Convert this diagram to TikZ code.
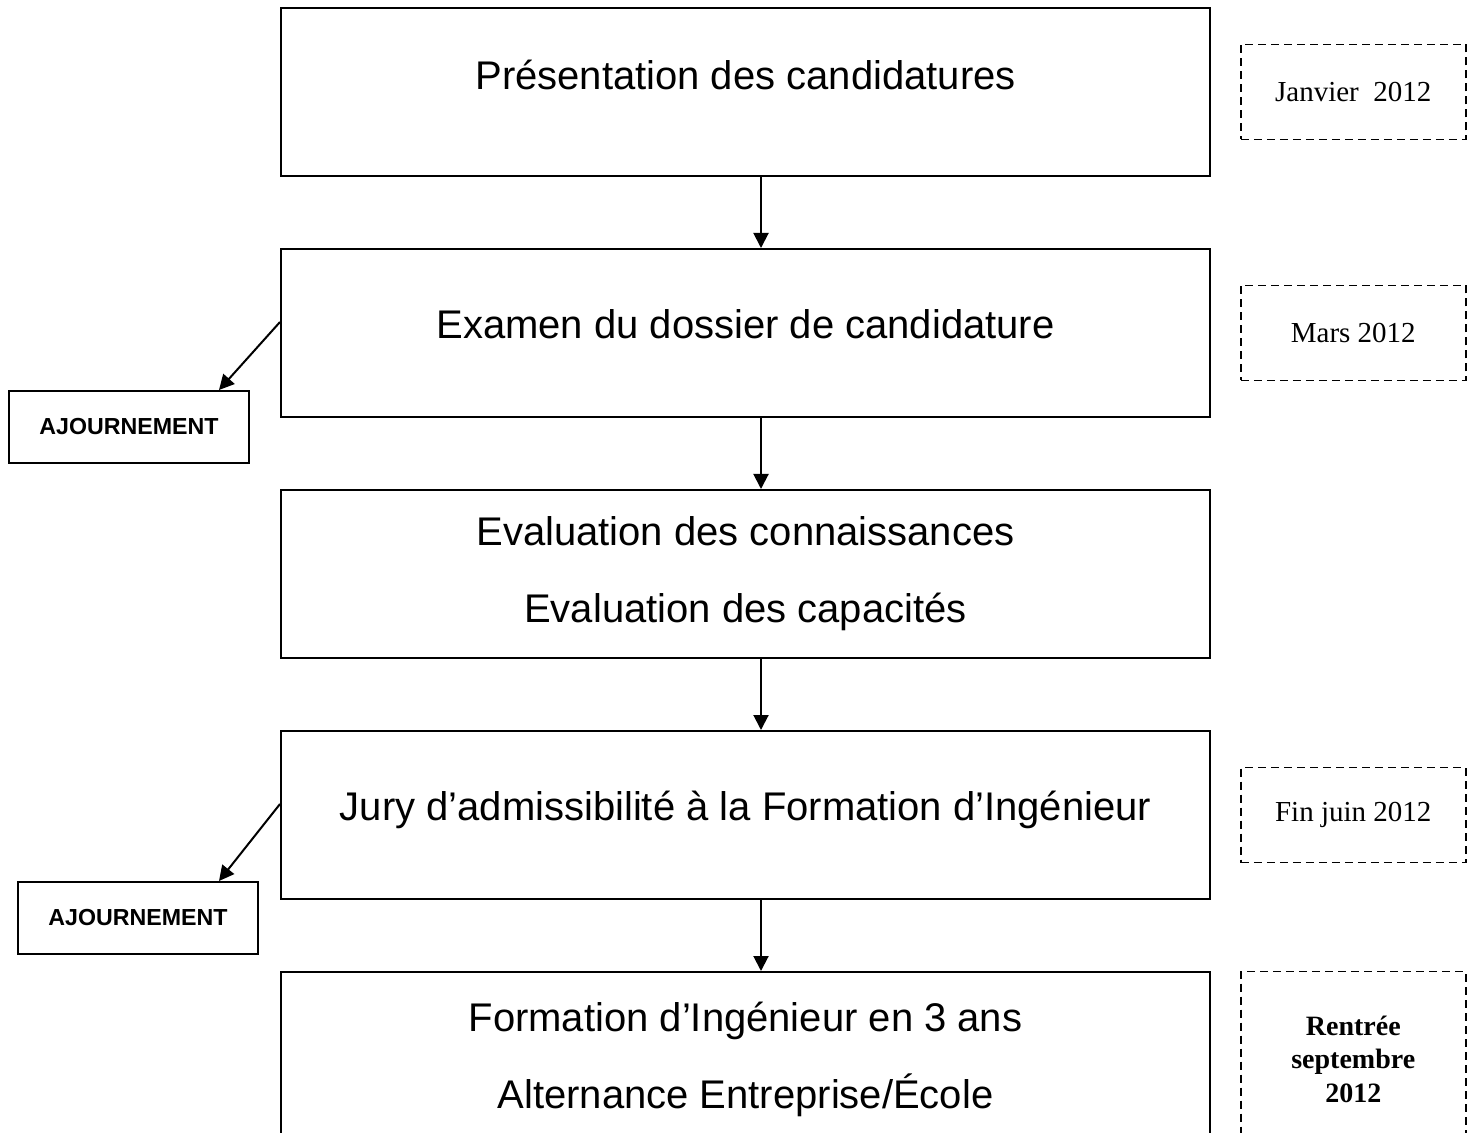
\documentclass[tikz,border=0pt]{standalone}
\usepackage{fontspec}
\setmainfont{Liberation Serif}
\setsansfont{Liberation Sans}
\usepackage{tikz}
\usetikzlibrary{positioning,arrows.meta}
\tikzstyle{flow} = [line width=1pt,-{Triangle[length=7.5pt,width=7.5pt]}]

\begin{document}
\begin{tikzpicture}[x=0.5pt,y=-0.5pt,
			stage/.style={
					draw, line width=1pt,
					minimum width=464.5pt, minimum height=84pt,
					align=center, inner sep=0pt,
					font=\sffamily\fontsize{20}{38.5}\selectfont
				},
			dated/.style={
					draw, line width=0.75pt, dash pattern=on 4pt off 2.5pt,
					minimum width=112.5pt, minimum height=47.5pt,
					align=center, inner sep=0pt,
					font=\rmfamily\fontsize{14.5}{17}\selectfont
				},
			delay/.style={
					draw, line width=1pt,
					minimum width=120pt, minimum height=36pt,
					font=\sffamily\bfseries\fontsize{11.6}{14}\selectfont
				},
			node distance=35.5pt
		]
		\useasboundingbox (0,0) rectangle (1477,1133);
		\clip (0,0) rectangle (1477,1133);

		% main steps
		\node[stage,text height=12pt,text depth=14.6pt] (s1) at (745.5,92) {Présentation des candidatures};
		\node[stage,text height=12pt,text depth=6.6pt,below=of s1] (s2) {Examen du dossier de candidature};
		\node[stage,below=of s2] (s3) {Evaluation des connaissances\\Evaluation des capacités};
		\node[stage,text height=12pt,text depth=6.6pt,below=of s3] (s4) {Jury d’admissibilité à la Formation d’Ingénieur};
		\node[stage,below=of s4,minimum height=87pt] (s5) {Formation d’Ingénieur en 3 ans\\Alternance Entreprise/École};

		% dates
		\node[dated,right=14.5pt of s1] (d1) {Janvier\ \ 2012};
		\node[dated,right=14.5pt of s2] (d2) {Mars 2012};
		\node[dated,right=14.5pt of s4] (d3) {Fin juin 2012};
		\node[dated,right=14.5pt of s5,minimum height=87.5pt,
			font=\rmfamily\bfseries\fontsize{14}{16.75}\selectfont] (d4) {Rentrée\\septembre\\2012};

		% rejections
		\node[delay,below left=28.5pt and 15pt of s2.west] (a1) {AJOURNEMENT};
		\node[delay,below left=33pt and 10.5pt of s4.west] (a2) {AJOURNEMENT};

		\foreach \a/\b in {s1/s2,s2/s3,s3/s4,s4/s5}
			\draw[flow] ([xshift=7.75pt]\a.south) -- ([xshift=7.75pt]\b.north);
		\draw[flow] ([yshift=5.5pt]s2.west) -- ([xshift=-15.5pt]a1.north east);
		\draw[flow] ([yshift=5.5pt]s4.west) -- ([xshift=-20pt]a2.north east);
	\end{tikzpicture}
\end{document}
